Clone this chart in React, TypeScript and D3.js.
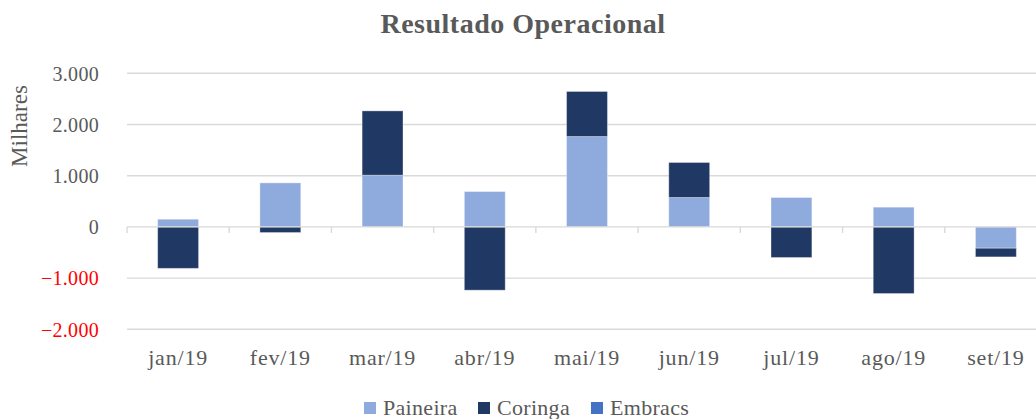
import React from "react";
import * as d3 from "d3";

const months = ["jan/19", "fev/19", "mar/19", "abr/19", "mai/19", "jun/19", "jul/19", "ago/19", "set/19"];
const paineira = [150, 860, 1010, 690, 1765, 574, 574, 385, -416];
const coringa = [-810, -110, 1256, -1236, 880, 684, -598, -1301, -170];
const embracs = [0, 0, 0, 0, 0, 0, 0, 0, 0];
const yTicks = [-2000, -1000, 0, 1000, 2000, 3000];
const seriesNames = ["Paineira", "Coringa", "Embracs"];
const seriesColors = ["#8FAADC", "#203864", "#4472C4"];

const W = 1036;
const H = 419;
const serif = "'Liberation Serif', 'DejaVu Serif', serif";

export default function App() {
  const x = d3.scaleBand<string>().domain(months).range([127, 1047]).paddingInner(0.6).paddingOuter(0.3);
  const y = d3.scaleLinear().domain([-2000, 3000]).range([329.3, 73.3]);
  const step = x.step();
  const rows = months.map((m, i) => ({ m, Paineira: paineira[i], Coringa: coringa[i], Embracs: embracs[i] }));
  const stacked = d3.stack<any>().keys(seriesNames).offset(d3.stackOffsetDiverging)(rows);
  const fmt = (v: number) => d3.format(",")(v).replace(/,/g, ".");
  const legendX = [364, 478, 591];

  return (
    <div style={{ position: "absolute", left: 0, top: 0 }}>
      <svg width={W} height={H} style={{ display: "block", background: "#fff" }}>
        <text x={523} y={33} textAnchor="middle" fontFamily={serif} fontWeight="bold" fontSize={28} letterSpacing={0.5} fill="#595959">
          Resultado Operacional
        </text>
        {yTicks.filter((t) => t !== 0).map((t) => (
          <line key={t} x1={127} x2={1047} y1={y(t)} y2={y(t)} stroke="#D9D9D9" strokeWidth={1.4} />
        ))}
        {yTicks.map((t) => (
          <text key={"l" + t} x={99} y={y(t)} dy="0.36em" textAnchor="end" fontFamily={serif} fontSize={20} letterSpacing={0.3}
            fill={t < 0 ? "#FF0000" : "#595959"}>
            {fmt(t)}
          </text>
        ))}
        <text transform={`translate(27,126) rotate(-90)`} textAnchor="middle" fontFamily={serif} fontSize={23} fill="#595959">
          Milhares
        </text>
        {stacked.map((s, si) => (
          <g key={s.key} fill={seriesColors[si]}>
            {s.map((d, i) => {
              const y0 = y(d[0]);
              const y1 = y(d[1]);
              const top = Math.min(y0, y1);
              const h = Math.abs(y1 - y0);
              if (h < 0.01) return null;
              return (
                <rect key={i} x={x(months[i])} y={top} width={x.bandwidth()} height={h}
                  stroke="#ffffff" strokeOpacity={0.35} strokeWidth={1} />
              );
            })}
          </g>
        ))}
        <line x1={127} x2={1047} y1={y(0)} y2={y(0)} stroke="#D9D9D9" strokeWidth={1.4} />
        {d3.range(months.length + 1).map((i) => (
          <line key={"t" + i} x1={127 + i * step} x2={127 + i * step} y1={y(0)} y2={y(0) + 6} stroke="#D9D9D9" strokeWidth={1.4} />
        ))}
        {months.map((m) => (
          <text key={m} x={(x(m) as number) + x.bandwidth() / 2} y={365} textAnchor="middle" fontFamily={serif} fontSize={22} letterSpacing={0.8} fill="#595959">
            {m}
          </text>
        ))}
        {seriesNames.map((n, i) => (
          <g key={n}>
            <rect x={legendX[i]} y={402} width={12} height={12} fill={seriesColors[i]} />
            <text x={legendX[i] + 19} y={415} fontFamily={serif} fontSize={22} letterSpacing={0.3} fill="#595959">{n}</text>
          </g>
        ))}
      </svg>
    </div>
  );
}
